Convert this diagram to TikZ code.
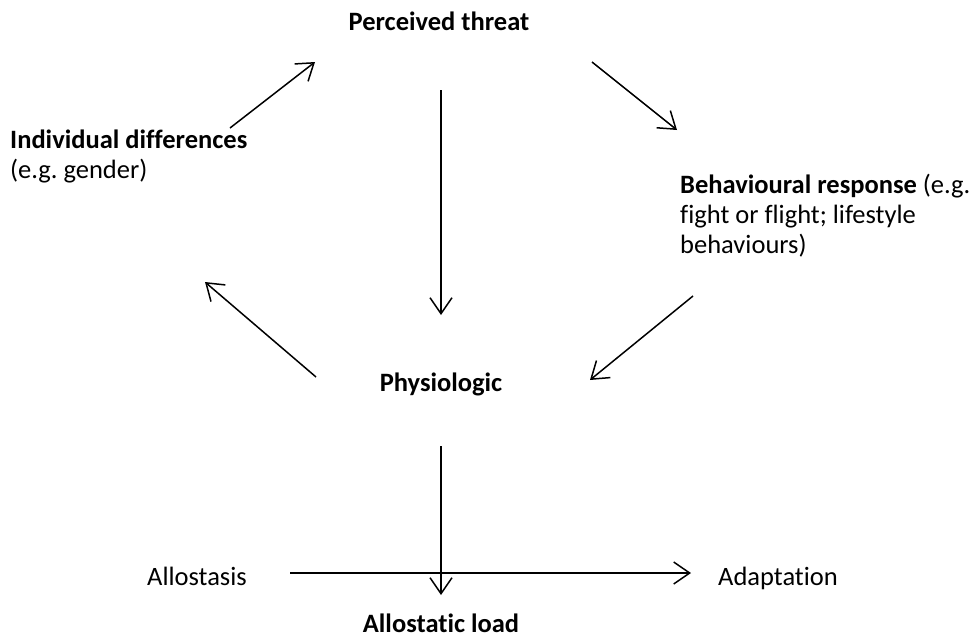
\documentclass[tikz,border=0pt]{standalone}
\usepackage{fontspec}
\setmainfont{Carlito}[Ligatures=NoCommon]
\usetikzlibrary{arrows.meta}
\frenchspacing
\begin{document}
\begin{tikzpicture}[x=1pt,y=-1pt,
  lbl/.style={inner sep=0pt,font=\fontsize{26.5}{30}\selectfont},
  flow/.style={line width=1.5pt,-{Straight Barb[length=16pt,width=22pt,line width=1.5pt]}}]
\useasboundingbox (0,0) rectangle (978,638);

% labels (multi-line nodes are placed by the baseline of their last line)
\node[lbl,anchor=base] (threat) at (439,30) {\textbf{Perceived threat}};
\node[lbl,anchor=base west,align=left] (indiv) at (10,178)
  {\textbf{Individual differences}\\(e.g. gender)};
\node[lbl,anchor=base west,align=left] (behav) at (680,253)
  {\textbf{Behavioural response} (e.g.\\fight or flight; lifestyle\\behaviours)};
\node[lbl,anchor=base] (physio) at (441,391) {\textbf{Physiologic}};
\node[lbl,anchor=base west] (allo) at (147,585) {Allostasis};
\node[lbl,anchor=base west] (adapt) at (718,585) {Adaptation};
\node[lbl,anchor=base] (load) at (441,632) {\textbf{Allostatic load}};

% connector end points
\coordinate (i-out) at (230,128);  \coordinate (t-in)  at (315,62);
\coordinate (t-out) at (592,62);   \coordinate (b-in)  at (677,130);
\coordinate (t-dn)  at (441,90);   \coordinate (p-in)  at (441,315);
\coordinate (b-out) at (693,296);  \coordinate (p-inr) at (590,380);
\coordinate (p-out) at (316,377);  \coordinate (i-in)  at (205,282);
\coordinate (p-dn)  at (441,446);  \coordinate (l-in)  at (441,595);
\coordinate (a-out) at (290,573);  \coordinate (d-in)  at (691,573);

% cycle around the threat response
\draw[flow] (i-out) -- (t-in);
\draw[flow] (t-out) -- (b-in);
\draw[flow] (t-dn) -- (p-in);
\draw[flow] (b-out) -- (p-inr);
\draw[flow] (p-out) -- (i-in);

% outcome cross
\draw[flow] (p-dn) -- (l-in);
\draw[flow] (a-out) -- (d-in);
\end{tikzpicture}
\end{document}
